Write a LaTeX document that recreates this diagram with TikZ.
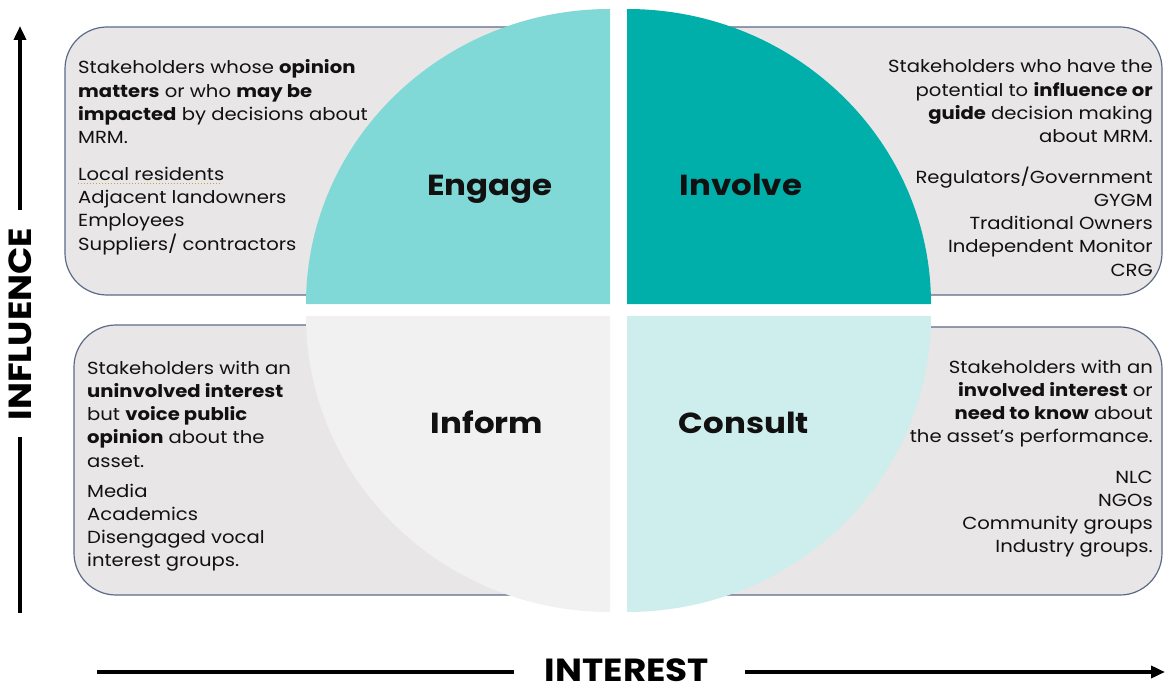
\documentclass[tikz,border=0pt]{standalone}
\usepackage{fontspec}
\setmainfont{Poppins}[FakeStretch=1.12]
\usetikzlibrary{arrows.meta}

\definecolor{engagec}{HTML}{80D9D6}
\definecolor{involvec}{HTML}{00AFA9}
\definecolor{informc}{HTML}{F1F1F1}
\definecolor{consultc}{HTML}{CDEEEC}
\definecolor{boxfill}{HTML}{E8E6E7}
\definecolor{boxline}{HTML}{5C6A88}
\definecolor{inkc}{HTML}{111111}
\definecolor{spellc}{HTML}{C8A040}

\tikzset{
  infobox/.style={fill=boxfill, draw=boxline, line width=1.2pt, rounded corners=42pt},
  quadlabel/.style={font=\fontsize{29}{34}\selectfont\bfseries, text=inkc, inner sep=0pt, anchor=base},
  body/.style={font=\fontsize{17.5}{23.3}\selectfont, text=inkc, inner sep=0pt},
  axislabel/.style={font=\fontsize{32}{38}\selectfont\bfseries, text=black, inner sep=0pt},
  axisline/.style={line width=3.5pt, draw=black},
  axisarrow/.style={axisline, -{Triangle[length=14pt,width=12pt]}},
}

\newcommand{\leftlines}[1]{\begin{tabular}[t]{@{}l@{}}#1\end{tabular}}
\newcommand{\rightlines}[1]{\begin{tabular}[t]{@{}r@{}}#1\end{tabular}}

\begin{document}
\begin{tikzpicture}[x=1pt, y=-1pt]
  \useasboundingbox (0,0) rectangle (1165,685);
  \fill[white] (0,0) rectangle (1165,685);

  % grey description panels, partly hidden behind the quarters
  \draw[infobox] (65,27) rectangle (600,295);
  \draw[infobox] (640,27) rectangle (1162,295);
  \draw[infobox] (74,325) rectangle (600,595);
  \draw[infobox] (640,327) rectangle (1162,595);

  % the four quarters of the disc
  \fill[engagec] (610,304) -- (306,304)
    arc[start angle=180, end angle=90, x radius=304pt, y radius=295pt] -- cycle;
  \fill[involvec] (627,304) -- (931,304)
    arc[start angle=0, end angle=90, x radius=304pt, y radius=295pt] -- cycle;
  \fill[informc] (610,316) -- (306,316)
    arc[start angle=180, end angle=270, x radius=304pt, y radius=296pt] -- cycle;
  \fill[consultc] (627,316) -- (931,316)
    arc[start angle=0, end angle=-90, x radius=304pt, y radius=296pt] -- cycle;

  % quarter titles
  \node[quadlabel] (engage)  at (490,195) {Engage};
  \node[quadlabel] (involve) at (741,195) {Involve};
  \node[quadlabel] (inform)  at (487,433) {Inform};
  \node[quadlabel] (consult) at (744,433) {Consult};

  % Engage panel
  \node[body, anchor=base west] (engdesc) at (78,74) {\leftlines{%
    Stakeholders whose \textbf{opinion}\\
    \textbf{matters} or who \textbf{may be}\\
    \textbf{impacted} by decisions about\\
    MRM.}};
  \node[body, anchor=base west] (englist) at (78,180) {\leftlines{%
    Local residents\\
    Adjacent landowners\\
    Employees\\
    Suppliers/ contractors}};
  \coordinate (ulstart) at ([yshift=-3.5pt]englist.base west);
  \coordinate (ulend) at ([xshift=144pt]ulstart);
  \draw[spellc, line width=1pt, dotted] (ulstart) -- (ulend);

  % Involve panel
  \node[body, anchor=base east] (invdesc) at (1153,73) {\rightlines{%
    Stakeholders who have the\\
    potential to \textbf{influence or}\\
    \textbf{guide} decision making\\
    about MRM.}};
  \node[body, anchor=base east] (invlist) at (1153,183) {\rightlines{%
    Regulators/Government\\
    GYGM\\
    Traditional Owners\\
    Independent Monitor\\
    CRG}};

  % Inform panel
  \node[body, anchor=base west] (infdesc) at (87,374) {\leftlines{%
    Stakeholders with an\\
    \textbf{uninvolved interest}\\
    but \textbf{voice public}\\
    \textbf{opinion} about the\\
    asset.}};
  \node[body, anchor=base west] (inflist) at (87,497) {\leftlines{%
    Media\\
    Academics\\
    Disengaged vocal\\
    interest groups.}};

  % Consult panel
  \node[body, anchor=base east] (condesc) at (1153,373) {\rightlines{%
    Stakeholders with an\\
    \textbf{involved interest} or\\
    \textbf{need to know} about\\
    the asset's performance.}};
  \node[body, anchor=base east] (conlist) at (1153,483) {\rightlines{%
    NLC\\
    NGOs\\
    Community groups\\
    Industry groups.}};

  % axes
  \node[axislabel, rotate=90] (influence) at (20,324) {INFLUENCE};
  \node[axislabel, anchor=base] (interest) at (627,681) {INTEREST};

  \coordinate (vbot) at (20,613);
  \coordinate (vtop) at (20,26);
  \coordinate (hleft) at (97,672);
  \coordinate (hright) at (1165,672);

  \draw[axisline] (vbot) -- (influence.west |- 0,437);
  \draw[axisarrow] (influence.east |- 0,210) -- (vtop);
  \draw[axisline, shorten >=31pt] (hleft) -- (interest.west |- hleft);
  \draw[axisarrow, shorten <=36pt] (interest.east |- hright) -- (hright);
\end{tikzpicture}
\end{document}
